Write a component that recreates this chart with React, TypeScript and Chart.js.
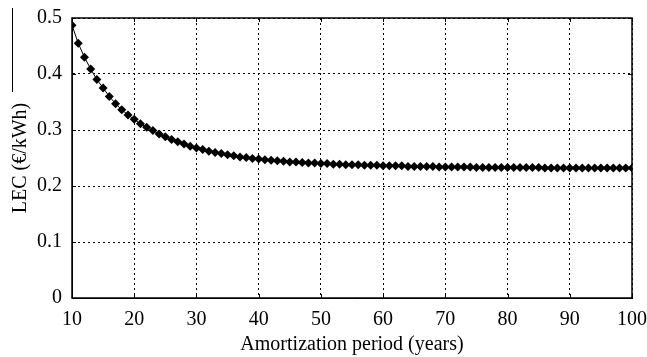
import React, { useEffect, useRef } from "react";
import { Chart, registerables } from "chart.js";

Chart.register(...registerables);

const years: number[] = [
  10, 11, 12, 13, 14, 15, 16, 17, 18, 19,
  20, 21, 22, 23, 24, 25, 26, 27, 28, 29,
  30, 31, 32, 33, 34, 35, 36, 37, 38, 39,
  40, 41, 42, 43, 44, 45, 46, 47, 48, 49,
  50, 51, 52, 53, 54, 55, 56, 57, 58, 59,
  60, 61, 62, 63, 64, 65, 66, 67, 68, 69,
  70, 71, 72, 73, 74, 75, 76, 77, 78, 79,
  80, 81, 82, 83, 84, 85, 86, 87, 88, 89,
  90, 91, 92, 93, 94, 95, 96, 97, 98, 99, 100,
];

const lec: number[] = [
  0.487, 0.455, 0.430, 0.409, 0.390, 0.375, 0.360, 0.347, 0.336, 0.327,
  0.319, 0.311, 0.305, 0.299, 0.293, 0.288, 0.283, 0.279, 0.275, 0.271,
  0.268, 0.265, 0.262, 0.260, 0.258, 0.256, 0.254, 0.252, 0.251, 0.249,
  0.248, 0.247, 0.246, 0.245, 0.244, 0.243, 0.243, 0.242, 0.241, 0.241,
  0.240, 0.240, 0.239, 0.239, 0.238, 0.238, 0.238, 0.237, 0.237, 0.237,
  0.236, 0.236, 0.236, 0.236, 0.235, 0.235, 0.235, 0.235, 0.235, 0.234,
  0.234, 0.234, 0.234, 0.234, 0.234, 0.233, 0.233, 0.233, 0.233, 0.233,
  0.233, 0.233, 0.233, 0.233, 0.233, 0.233, 0.232, 0.232, 0.232, 0.232,
  0.232, 0.232, 0.232, 0.232, 0.232, 0.232, 0.232, 0.232, 0.232, 0.232, 0.232,
];

const xTitle = "Amortization period (years)";
const yTitle = "LEC (€/kWh)";

const FONT = "'Liberation Serif', 'Times New Roman', serif";

const framePlugin = {
  id: "frame",
  afterDraw(chart: any) {
    const { ctx, chartArea, scales } = chart;
    ctx.save();
    ctx.strokeStyle = "#000";
    ctx.lineWidth = 1;
    ctx.setLineDash([]);
    const xs = scales.x;
    const ys = scales.y;
    ctx.beginPath();
    xs.ticks.forEach((_t: any, i: number) => {
      const px = Math.round(xs.getPixelForTick(i)) + 0.5;
      ctx.moveTo(px, chartArea.bottom);
      ctx.lineTo(px, chartArea.bottom - 4);
      ctx.moveTo(px, chartArea.top);
      ctx.lineTo(px, chartArea.top + 4);
    });
    ys.ticks.forEach((_t: any, i: number) => {
      const py = Math.round(ys.getPixelForTick(i)) + 0.5;
      ctx.moveTo(chartArea.left, py);
      ctx.lineTo(chartArea.left + 4, py);
      ctx.moveTo(chartArea.right, py);
      ctx.lineTo(chartArea.right - 4, py);
    });
    ctx.stroke();
    ctx.lineWidth = 1.5;
    ctx.strokeRect(chartArea.left, chartArea.top, chartArea.right - chartArea.left, chartArea.bottom - chartArea.top);
    ctx.lineWidth = 1;
    ctx.beginPath();
    ctx.moveTo(12.5, 8);
    ctx.lineTo(12.5, 92);
    ctx.stroke();
    ctx.restore();
  },
};

export default function App() {
  const ref = useRef<HTMLCanvasElement | null>(null);

  useEffect(() => {
    if (!ref.current) return;
    const chart = new Chart(ref.current, {
      type: "line",
      data: {
        datasets: [
          {
            data: years.map((x, i) => ({ x, y: lec[i] })),
            borderColor: "#000",
            backgroundColor: "#000",
            borderWidth: 1,
            pointStyle: "rectRot",
            pointRadius: 4.5,
            pointHoverRadius: 4.5,
            pointBackgroundColor: "#000",
            pointBorderColor: "#000",
            pointBorderWidth: 0,
            tension: 0,
          },
        ],
      },
      options: {
        responsive: false,
        animation: false,
        devicePixelRatio: 1,
        layout: { padding: { left: 0, top: 18, right: 15, bottom: 0 } },
        plugins: {
          legend: { display: false },
          tooltip: { enabled: false },
          title: { display: false },
        },
        scales: {
          x: {
            type: "linear",
            min: 10,
            max: 100,
            ticks: {
              stepSize: 10,
              padding: 10,
              color: "#000",
              font: { family: FONT, size: 20 },
              maxRotation: 0,
            },
            grid: {
              color: "#000",
              lineWidth: 1,
              drawTicks: false,
            },
            border: { display: true, color: "#000", width: 1, dash: [2, 3] },
            title: {
              display: true,
              text: xTitle,
              color: "#000",
              font: { family: FONT, size: 20 },
              padding: { top: 0, bottom: 0 },
            },
            afterFit: (s: any) => {
              s.height = 59;
              s.paddingLeft = 0;
              s.paddingRight = 0;
            },
          },
          y: {
            type: "linear",
            min: 0,
            max: 0.5,
            ticks: {
              stepSize: 0.1,
              padding: 10,
              color: "#000",
              font: { family: FONT, size: 20 },
            },
            grid: {
              color: "#000",
              lineWidth: 1,
              drawTicks: false,
            },
            border: { display: true, color: "#000", width: 1, dash: [2, 3] },
            title: {
              display: true,
              text: yTitle,
              color: "#000",
              font: { family: FONT, size: 20 },
              padding: { top: 9, bottom: 0 },
            },
            afterFit: (s: any) => {
              s.width = 72;
              s.paddingTop = 0;
              s.paddingBottom = 0;
            },
          },
        },
      },
      plugins: [framePlugin],
    });
    return () => chart.destroy();
  }, []);

  return (
    <div style={{ position: "absolute", left: 0, top: 0, width: 647, height: 357, background: "#fff" }}>
      <canvas ref={ref} width={647} height={357} style={{ display: "block" }} />
    </div>
  );
}
